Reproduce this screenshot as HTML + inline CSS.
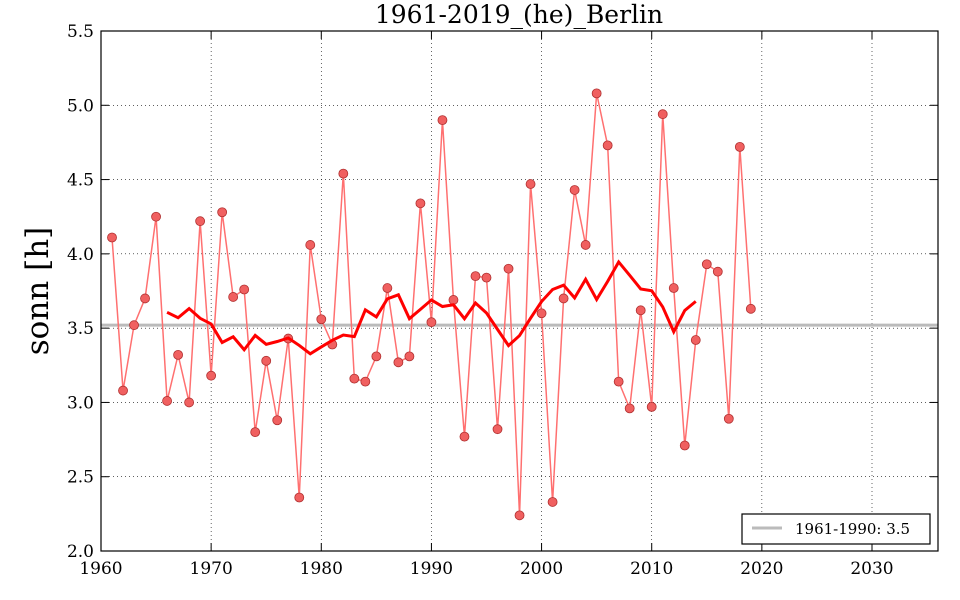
<!DOCTYPE html>
<html><head><meta charset="utf-8"><style>
body{margin:0;background:#fff;}
svg{display:block;font-family:"DejaVu Serif","Liberation Serif",serif;}
</style></head><body>
<svg id="s" width="960" height="600" xmlns="http://www.w3.org/2000/svg">
<rect width="960" height="600" fill="#fff"/>
<text x="519" y="23" font-size="25" text-anchor="middle">1961-2019_(he)_Berlin</text>
<text transform="translate(48,291) rotate(-90)" font-size="31" text-anchor="middle">sonn [h]</text>
<g id="g"></g>
</svg>
<script>
var X0=101,X1=938,Y0=31,Y1=551;
function px(y){return X0+(y-1960)*(872-101)/70;}
function py(v){return Y1-(v-2)*(Y1-Y0)/3.5;}
var d=[4.11,3.08,3.52,3.70,4.25,3.01,3.32,3.00,4.22,3.18,4.28,3.71,3.76,2.80,3.28,2.88,3.43,2.36,4.06,3.56,3.39,4.54,3.16,3.14,3.31,3.77,3.27,3.31,4.34,3.54,4.90,3.69,2.77,3.85,3.84,2.82,3.90,2.24,4.47,3.60,2.33,3.70,4.43,4.06,5.08,4.73,3.14,2.96,3.62,2.97,4.94,3.77,2.71,3.42,3.93,3.88,2.89,4.72,3.63];
var s='';
for(var t=1960;t<=2030;t+=10){var x=px(t);s+='<line x1="'+x+'" y1="'+Y0+'" x2="'+x+'" y2="'+Y1+'" stroke="#000" stroke-width="0.6" stroke-dasharray="1,3"/>';
s+='<line x1="'+x+'" y1="'+Y1+'" x2="'+x+'" y2="'+(Y1-8)+'" stroke="#000"/><line x1="'+x+'" y1="'+Y0+'" x2="'+x+'" y2="'+(Y0+8)+'" stroke="#000"/>';
s+='<text x="'+x+'" y="574" font-size="17" text-anchor="middle">'+t+'</text>';}
for(var v=2;v<=5.51;v+=0.5){var y=py(v);s+='<line x1="'+X0+'" y1="'+y+'" x2="'+X1+'" y2="'+y+'" stroke="#000" stroke-width="0.6" stroke-dasharray="1,3"/>';
s+='<line x1="'+X0+'" y1="'+y+'" x2="'+(X0+8)+'" y2="'+y+'" stroke="#000"/><line x1="'+X1+'" y1="'+y+'" x2="'+(X1-8)+'" y2="'+y+'" stroke="#000"/>';
s+='<text x="94" y="'+(y+6)+'" font-size="17" text-anchor="end">'+v.toFixed(1)+'</text>';}
s+='<line x1="'+X0+'" y1="'+py(3.52)+'" x2="'+X1+'" y2="'+py(3.52)+'" stroke="#bbb" stroke-width="3"/>';
var p='';for(var i=0;i<d.length;i++)p+=px(1961+i)+','+py(d[i])+' ';
s+='<polyline points="'+p+'" fill="none" stroke="#ff7070" stroke-width="1.5"/>';
for(var i=0;i<d.length;i++)s+='<circle cx="'+px(1961+i)+'" cy="'+py(d[i])+'" r="4.5" fill="#f06060" stroke="#b03030" stroke-width="0.8"/>';
var m='';for(var i=5;i<d.length-5;i++){var a=0;for(var k=-5;k<=5;k++)a+=d[i+k];m+=px(1961+i)+','+py(a/11)+' ';}
s+='<polyline points="'+m+'" fill="none" stroke="#f00" stroke-width="3"/>';
s+='<rect x="'+X0+'" y="'+Y0+'" width="'+(X1-X0)+'" height="'+(Y1-Y0)+'" fill="none" stroke="#000" stroke-width="1.2"/>';
s+='<rect x="742" y="514" width="188" height="30" fill="#fff" stroke="#000" stroke-width="1.2"/>';
s+='<line x1="752" y1="528" x2="782" y2="528" stroke="#bbb" stroke-width="3"/>';
s+='<text x="795" y="534" font-size="15">1961-1990: 3.5</text>';
document.getElementById('g').innerHTML=s;
</script>
</body></html>
